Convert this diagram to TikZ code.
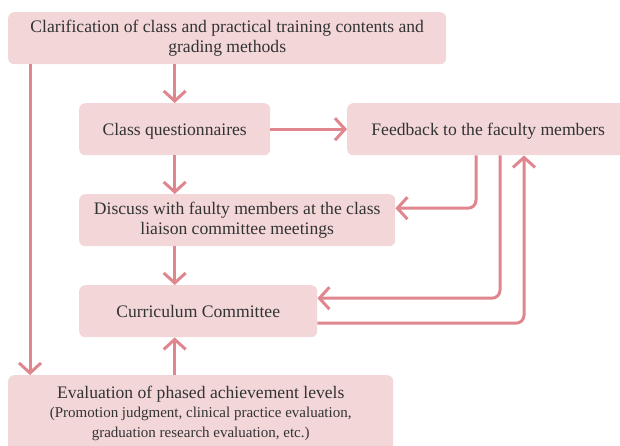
\documentclass[tikz,border=0pt]{standalone}
\usepackage{fontspec}
\setmainfont{Liberation Serif}
\usetikzlibrary{arrows.meta}
\definecolor{boxpink}{HTML}{F2D6D8}
\definecolor{arrowpink}{HTML}{E0868E}
\definecolor{txtgray}{HTML}{333333}
\newcommand{\boxstrut}{\rule[-4pt]{0pt}{20pt}}
\tikzset{
  box/.style={fill=boxpink, rounded corners=6pt, anchor=north west, inner sep=0pt,
    align=center, text=txtgray, font=\fontsize{17.6}{20.5}\selectfont,
    execute at begin node=\boxstrut, execute at end node=\boxstrut},
  flow/.style={draw=arrowpink, line width=3pt, rounded corners=8pt,
    -{Straight Barb[length=10pt,width=22pt]}}
}
\begin{document}
\begin{tikzpicture}[x=1pt,y=-1pt]
    \useasboundingbox (0,0) rectangle (620,446);
    \clip (0,0) rectangle (620,446);
    \node[box, minimum width=438pt, minimum height=52pt] (clarif) at (8,12)
        {Clarification of class and practical training contents and\\grading methods};
    \node[box, minimum width=191pt, minimum height=52pt] (questn) at (79,103) {Class questionnaires};
    \node[box, minimum width=282pt, minimum height=52pt] (feedback) at (347,103) {Feedback to the faculty members};
    \node[box, minimum width=316pt, minimum height=52pt] (discuss) at (79,194)
        {Discuss with faulty members at the class\\liaison committee meetings};
    \node[box, minimum width=238pt, minimum height=52pt] (curric) at (79,285) {Curriculum Committee};
    \node[box, minimum width=385pt, minimum height=78pt] (evalu) at (8,375)
        {Evaluation of phased achievement levels\\[-2pt]
         \fontsize{15}{19}\selectfont (Promotion judgment, clinical practice evaluation,\\
         \fontsize{15}{19}\selectfont graduation research evaluation, etc.)};

    \draw[flow] (questn.north |- clarif.south) -- (questn.north);
    \draw[flow] ([xshift=22pt]clarif.south west) -- ([xshift=22pt]clarif.south west |- evalu.north);
    \draw[flow] (questn) -- (feedback);
    \draw[flow] (questn.south) -- (questn.south |- discuss.north);
    \draw[flow] (questn.south |- discuss.south) -- (questn.south |- curric.north);
    \draw[flow] (questn.south |- evalu.north) -- (questn.south |- curric.south);
    \draw[flow] ([xshift=129pt]feedback.south west) |- ([yshift=12pt]discuss.east);
    \draw[flow] ([xshift=153pt]feedback.south west) |- ([yshift=13pt]curric.east);
    \draw[flow] ([yshift=-12pt]curric.east) -| ([xshift=177pt]feedback.south west);
\end{tikzpicture}
\end{document}
